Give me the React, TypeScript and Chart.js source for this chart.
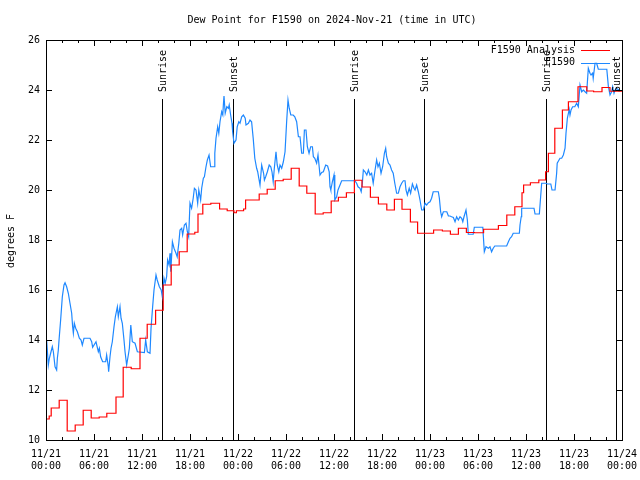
import React, { useEffect, useRef } from 'react';
import { Chart, registerables } from 'chart.js';

Chart.register(...registerables);

const FONT_FAMILY = '"DejaVu Sans Mono", "Liberation Mono", monospace';

const titleText = 'Dew Point for F1590 on 2024-Nov-21 (time in UTC)';
const yAxisTitle = 'degrees F';

// x axis: hours since 2024-11-21 00:00 UTC
const xTickLabels: string[][] = [
  ['11/21', '00:00'], ['11/21', '06:00'], ['11/21', '12:00'], ['11/21', '18:00'],
  ['11/22', '00:00'], ['11/22', '06:00'], ['11/22', '12:00'], ['11/22', '18:00'],
  ['11/23', '00:00'], ['11/23', '06:00'], ['11/23', '12:00'], ['11/23', '18:00'],
  ['11/24', '00:00'],
];

const sunEvents: { label: string; t: number }[] = [
  { label: 'Sunrise', t: 14.55 },
  { label: 'Sunset', t: 23.4 },
  { label: 'Sunrise', t: 38.55 },
  { label: 'Sunset', t: 47.3 },
  { label: 'Sunrise', t: 62.5 },
  { label: 'Sunset', t: 71.3 },
];

// F1590 Analysis (step changes: [hour, value])
const analysisSeries: [number, number][] = [
  [0, 10.67], [0.4, 10.84], [0.65, 10.96], [1.65, 11.28], [2.65, 11.59], [3.65, 10.36],
  [4.65, 10.6], [5.65, 11.19], [6.65, 10.88], [7.6, 10.92], [8.75, 11.07], [9.65, 11.72],
  [10.65, 12.91], [11.75, 12.85], [12.65, 14.07], [13.7, 14.63], [14.65, 15.19], [15.65, 16.2],
  [16.65, 17.0], [17.65, 17.53], [18.6, 18.24], [19.0, 18.31], [19.6, 19.04], [20.6, 19.43],
  [21.7, 19.47], [22.65, 19.24], [23.5, 19.17], [23.8, 19.09], [24.7, 19.17], [24.95, 19.24],
  [26.65, 19.6], [27.65, 19.84], [28.65, 20.03], [29.65, 20.37], [30.65, 20.43], [31.65, 20.87],
  [32.6, 20.16], [33.65, 19.87], [34.65, 19.04], [35.65, 19.09], [36.55, 19.56], [37.55, 19.71],
  [38.55, 19.89], [39.5, 20.39], [40.55, 20.12], [41.55, 19.71], [42.6, 19.44], [43.55, 19.2],
  [44.5, 19.63], [45.55, 19.23], [46.45, 18.72], [48.45, 18.27], [49.55, 18.4], [50.55, 18.36],
  [51.55, 18.23], [52.55, 18.47], [53.55, 18.3], [54.7, 18.29], [56.55, 18.43], [57.6, 18.58],
  [58.6, 19.0], [59.5, 19.33], [59.7, 19.89], [60.55, 20.2], [61.6, 20.29], [62.45, 20.4],
  [62.8, 20.73], [63.6, 21.47], [64.55, 22.47], [65.3, 23.2], [66.5, 23.53], [67.6, 24.13],
  [68.45, 23.96], [69.5, 23.93], [70.5, 24.1], [71.6, 23.95], [72, 23.95],
];

// F1590 observations ([hour, value])
const observedSeries: [number, number][] = [
  [0.08, 14.0], [0.29, 13.0], [0.42, 13.27], [0.58, 13.47], [0.79, 13.73], [0.92, 13.53],
  [1.13, 12.93], [1.33, 12.8], [1.42, 13.27], [1.54, 13.6], [1.63, 14.0], [1.83, 14.8],
  [2.04, 15.73], [2.25, 16.2], [2.38, 16.29], [2.58, 16.13], [2.79, 15.87], [3.0, 15.47],
  [3.21, 15.07], [3.33, 14.53], [3.42, 14.27], [3.54, 14.67], [3.71, 14.47], [3.92, 14.33],
  [4.17, 14.07], [4.38, 14.0], [4.54, 13.8], [4.75, 14.07], [5.5, 14.07], [5.71, 13.93],
  [5.83, 13.71], [6.25, 13.93], [6.54, 13.53], [6.67, 13.67], [6.83, 13.33], [7.08, 13.13],
  [7.46, 13.13], [7.58, 13.4], [7.79, 12.93], [7.83, 12.73], [8.0, 13.33], [8.13, 13.67],
  [8.29, 13.93], [8.5, 14.53], [8.67, 14.93], [8.92, 15.33], [9.04, 14.93], [9.25, 15.33],
  [9.38, 14.87], [9.54, 14.67], [9.75, 14.0], [9.88, 13.53], [10.08, 13.0], [10.29, 13.4],
  [10.42, 13.67], [10.6, 14.6], [10.79, 13.93], [11.13, 13.87], [11.42, 13.53], [12.3, 13.5],
  [12.46, 14.0], [12.67, 13.53], [13.0, 13.47], [13.13, 14.47], [13.33, 15.33], [13.5, 16.0],
  [13.75, 16.6], [13.9, 16.4], [14.17, 16.13], [14.4, 16.0], [14.54, 15.73], [14.75, 16.47],
  [14.9, 16.27], [15.08, 16.53], [15.2, 17.2], [15.38, 17.0], [15.5, 17.47], [15.6, 16.73],
  [15.8, 17.93], [16.0, 17.67], [16.25, 17.47], [16.4, 17.33], [16.6, 17.87], [16.75, 18.4],
  [16.96, 18.47], [17.08, 18.2], [17.3, 18.6], [17.5, 18.67], [17.67, 18.33], [17.83, 18.13],
  [18.0, 19.47], [18.2, 19.27], [18.4, 19.67], [18.55, 20.07], [18.75, 20.0], [18.96, 19.47],
  [19.1, 20.0], [19.33, 19.6], [19.46, 20.07], [19.67, 20.47], [19.8, 20.53], [20.0, 20.93],
  [20.17, 21.2], [20.38, 21.4], [20.58, 20.93], [21.0, 20.93], [21.1, 21.47], [21.25, 22.07],
  [21.46, 22.53], [21.6, 22.27], [21.75, 22.73], [21.96, 23.13], [22.1, 23.0], [22.17, 23.4],
  [22.25, 23.76], [22.4, 23.07], [22.6, 23.33], [22.8, 23.27], [22.9, 23.4], [23.08, 23.0],
  [23.25, 22.67], [23.33, 22.33], [23.5, 21.87], [23.75, 22.0], [23.9, 22.53], [24.1, 22.73],
  [24.25, 22.67], [24.46, 22.93], [24.67, 23.0], [24.9, 22.87], [25.0, 22.6], [25.3, 22.67],
  [25.5, 22.8], [25.7, 22.73], [25.9, 22.07], [26.1, 21.27], [26.33, 20.87], [26.46, 20.73],
  [26.6, 20.47], [26.75, 20.2], [26.96, 21.0], [27.2, 20.67], [27.3, 20.4], [27.46, 20.53],
  [27.67, 20.73], [27.9, 21.0], [28.1, 20.93], [28.25, 20.73], [28.4, 20.33], [28.54, 20.87],
  [28.75, 21.53], [28.9, 21.0], [29.1, 20.73], [29.25, 21.0], [29.46, 20.87], [29.67, 21.13],
  [29.88, 21.53], [30.08, 22.73], [30.25, 23.6], [30.4, 23.27], [30.6, 23.0], [30.9, 23.0],
  [31.1, 22.93], [31.33, 22.73], [31.55, 22.13], [31.75, 22.13], [31.96, 21.47], [32.17, 21.47],
  [32.3, 22.4], [32.5, 22.4], [32.67, 21.73], [32.88, 21.47], [33.08, 21.73], [33.3, 21.73],
  [33.42, 21.33], [33.6, 21.27], [33.83, 21.07], [34.0, 21.4], [34.25, 20.6], [34.46, 20.7],
  [34.67, 20.73], [34.96, 21.0], [35.2, 20.96], [35.4, 20.73], [35.5, 20.13], [35.6, 20.0],
  [35.8, 20.33], [36.0, 20.6], [36.1, 19.6], [36.33, 19.73], [36.5, 20.0], [36.75, 20.2],
  [36.96, 20.37], [38.6, 20.37], [38.83, 20.27], [39.0, 20.13], [39.25, 20.07], [39.4, 19.93],
  [39.54, 20.27], [39.67, 20.8], [39.88, 20.73], [40.1, 20.6], [40.3, 20.8], [40.5, 20.6],
  [40.7, 20.67], [40.9, 20.27], [41.1, 20.73], [41.33, 21.2], [41.5, 20.93], [41.67, 21.07],
  [41.88, 20.67], [42.08, 20.93], [42.3, 21.47], [42.46, 21.67], [42.58, 21.33], [42.8, 21.07],
  [43.0, 21.0], [43.2, 20.8], [43.4, 20.67], [43.6, 20.27], [43.83, 19.87], [44.04, 19.87],
  [44.25, 20.13], [44.46, 20.27], [44.67, 20.37], [44.88, 20.37], [45.0, 20.0], [45.17, 19.8],
  [45.4, 20.07], [45.58, 19.87], [45.8, 20.24], [46.0, 20.07], [46.13, 20.0], [46.33, 20.2],
  [46.54, 19.93], [46.75, 19.6], [46.96, 19.2], [47.17, 19.2], [47.38, 19.47], [47.58, 19.4],
  [47.8, 19.49], [48.0, 19.53], [48.2, 19.67], [48.4, 19.93], [49.04, 19.93], [49.17, 19.67],
  [49.33, 19.13], [49.46, 18.93], [49.67, 19.13], [50.1, 19.13], [50.3, 18.96], [50.5, 18.96],
  [50.7, 18.93], [50.92, 18.9], [51.13, 18.73], [51.33, 18.93], [51.54, 18.8], [51.75, 18.93],
  [51.96, 18.87], [52.1, 18.73], [52.25, 18.93], [52.5, 19.2], [52.67, 18.8], [52.79, 18.23],
  [53.4, 18.23], [53.54, 18.51], [54.6, 18.51], [54.79, 17.53], [55.0, 17.73], [55.3, 17.67],
  [55.5, 17.73], [55.7, 17.53], [55.9, 17.67], [56.1, 17.76], [57.58, 17.76], [57.8, 17.93],
  [58.0, 18.07], [58.2, 18.13], [58.4, 18.27], [59.17, 18.27], [59.25, 18.6], [59.4, 18.93],
  [59.46, 19.27], [61.0, 19.27], [61.13, 19.04], [61.67, 19.04], [61.83, 19.73], [61.96, 20.27],
  [62.5, 20.27], [62.67, 20.24], [63.1, 20.24], [63.25, 20.0], [63.63, 20.0], [63.83, 20.67],
  [63.9, 21.07], [64.25, 21.27], [64.46, 21.27], [64.67, 21.4], [64.88, 21.67], [65.0, 22.27],
  [65.17, 22.87], [65.3, 23.07], [65.4, 23.23], [65.5, 23.0], [65.63, 23.2], [65.83, 23.33],
  [66.1, 23.33], [66.33, 23.47], [66.54, 23.33], [66.75, 24.2], [66.96, 23.93], [67.17, 24.0],
  [67.38, 23.93], [67.58, 23.87], [67.79, 24.87], [68.0, 24.67], [68.13, 24.6], [68.33, 24.67],
  [68.4, 24.47], [68.63, 25.07], [68.83, 25.07], [69.04, 24.83], [70.1, 24.83], [70.3, 24.13],
  [70.5, 23.8], [70.7, 23.93], [70.83, 24.13], [71.0, 23.87], [71.13, 24.0], [71.3, 24.07],
  [71.75, 23.97],
];

const RED = '#ff0000';
const BLUE = '#1e88ff';

const decorPlugin = {
  id: 'gnuDecor',
  beforeDatasetsDraw(chart: any) {
    const { ctx, chartArea: a, scales } = chart;
    const x = scales.x;
    ctx.save();
    ctx.strokeStyle = '#000';
    ctx.lineWidth = 1;
    sunEvents.forEach((e) => {
      const px = Math.round(x.getPixelForValue(e.t)) + 0.5;
      ctx.beginPath();
      ctx.moveTo(px, a.top + 59);
      ctx.lineTo(px, a.bottom);
      ctx.stroke();
    });
    ctx.restore();
  },
  afterDraw(chart: any) {
    const { ctx, chartArea: a, scales } = chart;
    const x = scales.x;
    const y = scales.y;
    ctx.save();
    ctx.strokeStyle = '#000';
    ctx.lineWidth = 1;
    // border
    ctx.strokeRect(Math.round(a.left) + 0.5, Math.round(a.top) + 0.5, Math.round(a.right - a.left), Math.round(a.bottom - a.top));
    // x ticks (inward, mirrored) every 2 hours, major every 6
    ctx.beginPath();
    for (let h = 0; h <= 72; h += 2) {
      const px = Math.round(x.getPixelForValue(h)) + 0.5;
      const len = h % 6 === 0 ? 6 : 3;
      ctx.moveTo(px, a.bottom);
      ctx.lineTo(px, a.bottom - len);
      ctx.moveTo(px, a.top);
      ctx.lineTo(px, a.top + len);
    }
    // y ticks
    for (let v = 10; v <= 26; v += 2) {
      const py = Math.round(y.getPixelForValue(v)) + 0.5;
      ctx.moveTo(a.left, py);
      ctx.lineTo(a.left + 6, py);
      ctx.moveTo(a.right, py);
      ctx.lineTo(a.right - 6, py);
    }
    ctx.stroke();

    ctx.fillStyle = '#000';
    ctx.font = '10px ' + FONT_FAMILY;
    // title
    ctx.textAlign = 'center';
    ctx.textBaseline = 'middle';
    ctx.fillText(titleText, 332, 20);
    // y axis title
    ctx.save();
    ctx.translate(11, (a.top + a.bottom) / 2 + 1);
    ctx.rotate(-Math.PI / 2);
    ctx.textAlign = 'center';
    ctx.fillText(yAxisTitle, 0, 0);
    ctx.restore();

    // legend
    const legendItems = [
      { label: 'F1590 Analysis', color: RED },
      { label: 'F1590', color: BLUE },
    ];
    legendItems.forEach((it, i) => {
      const ly = a.top + 10 + i * 12.5;
      ctx.fillStyle = '#000';
      ctx.textAlign = 'right';
      ctx.textBaseline = 'middle';
      ctx.fillText(it.label, a.right - 47, ly);
      ctx.strokeStyle = it.color;
      ctx.beginPath();
      ctx.moveTo(a.right - 41, Math.round(ly) + 0.5);
      ctx.lineTo(a.right - 12, Math.round(ly) + 0.5);
      ctx.stroke();
    });

    // sun labels
    ctx.fillStyle = '#000';
    sunEvents.forEach((e) => {
      const px = Math.round(x.getPixelForValue(e.t)) + 0.5;
      ctx.save();
      ctx.translate(px + 0.5, a.top + 52);
      ctx.rotate(-Math.PI / 2);
      ctx.textAlign = 'left';
      ctx.textBaseline = 'middle';
      ctx.fillText(e.label, 0, 0);
      ctx.restore();
    });
    ctx.restore();
  },
};

export default function App() {
  const canvasRef = useRef<HTMLCanvasElement | null>(null);

  useEffect(() => {
    const canvas = canvasRef.current;
    if (!canvas) return;
    const tickFont = { family: FONT_FAMILY, size: 10, lineHeight: 1.25 };
    const chart = new Chart(canvas, {
      type: 'line',
      data: {
        datasets: [
          {
            label: 'F1590 Analysis',
            data: analysisSeries.map(([t, v]) => ({ x: t, y: v })),
            borderColor: RED,
            backgroundColor: RED,
            borderWidth: 1.2,
            pointRadius: 0,
            stepped: 'after',
            fill: false,
          },
          {
            label: 'F1590',
            data: observedSeries.map(([t, v]) => ({ x: t, y: v })),
            borderColor: BLUE,
            backgroundColor: BLUE,
            borderWidth: 1.2,
            pointRadius: 0,
            tension: 0,
            fill: false,
          },
        ],
      },
      options: {
        animation: false,
        responsive: false,
        devicePixelRatio: 1,
        layout: { padding: { top: 40, right: 18, left: 0, bottom: 0 } },
        plugins: {
          legend: { display: false },
          title: { display: false },
          tooltip: { enabled: false },
        },
        scales: {
          x: {
            type: 'linear',
            min: 0,
            max: 72,
            grid: { display: false, drawTicks: false },
            border: { display: false },
            ticks: {
              stepSize: 6,
              autoSkip: false,
              maxRotation: 0,
              padding: 8,
              color: '#000',
              font: tickFont,
              callback: (value: any) => xTickLabels[Math.round(Number(value) / 6)] ?? '',
            },
            afterFit: (s: any) => {
              s.height = 40;
              s.paddingLeft = 0;
              s.paddingRight = 0;
            },
          },
          y: {
            type: 'linear',
            min: 10,
            max: 26,
            grid: { display: false, drawTicks: false },
            border: { display: false },
            ticks: {
              stepSize: 2,
              padding: 6,
              color: '#000',
              font: { family: FONT_FAMILY, size: 10 },
            },
            afterFit: (s: any) => {
              s.width = 46;
              s.paddingTop = 0;
              s.paddingBottom = 0;
            },
          },
        },
      },
      plugins: [decorPlugin],
    } as any);
    return () => chart.destroy();
  }, []);

  return (
    <div style={{ position: 'absolute', left: 0, top: 0, width: 640, height: 480, background: '#fff' }}>
      <canvas ref={canvasRef} width={640} height={480} style={{ display: 'block' }} />
    </div>
  );
}
